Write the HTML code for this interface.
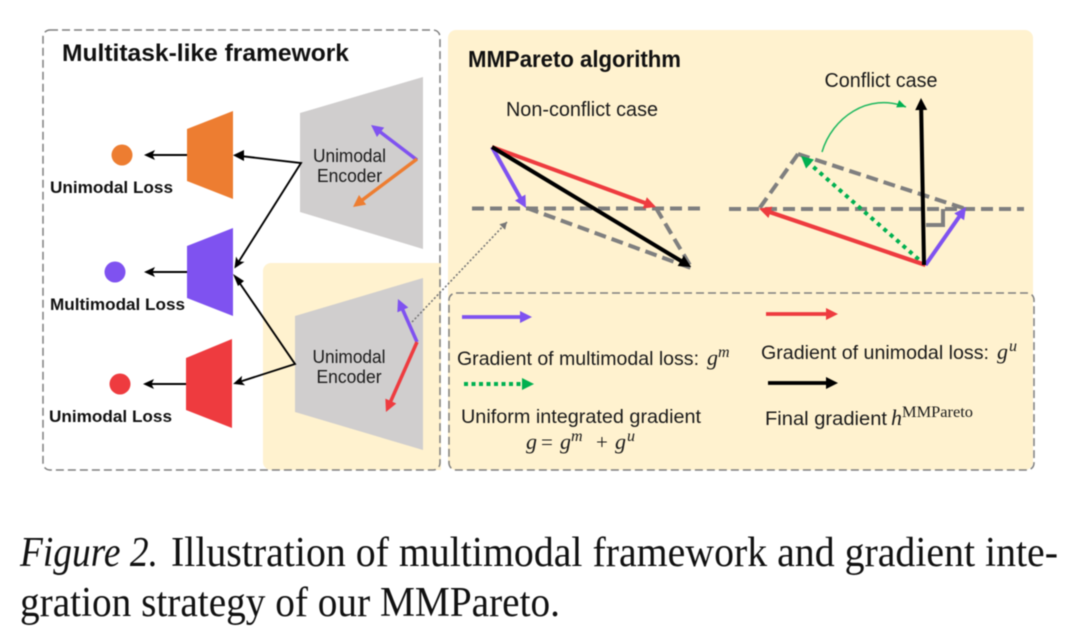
<!DOCTYPE html>
<html><head><meta charset="utf-8"><style>
html,body{margin:0;padding:0;background:#fff;width:1080px;height:636px;overflow:hidden}
svg{display:block;filter:blur(0.45px)}
text{font-family:"Liberation Sans",sans-serif;fill:#1a1a1a}
.b{font-weight:bold;fill:#111}
.m{font-family:"Liberation Serif",serif;font-style:italic}
.mr{font-family:"Liberation Serif",serif}
</style></head><body>
<svg width="1080" height="636" viewBox="0 0 1080 636" xmlns="http://www.w3.org/2000/svg">
<defs>
<marker id="ak" markerUnits="userSpaceOnUse" markerWidth="12" markerHeight="10" refX="8" refY="5" orient="auto"><path d="M0 0L11 5L0 10L2.5 5Z" fill="#000"/></marker>
<marker id="ab" markerUnits="userSpaceOnUse" markerWidth="15" markerHeight="14" refX="7" refY="6" orient="auto"><path d="M1 0L13 6L1 12Z" fill="#000"/></marker>
<marker id="ap" markerUnits="userSpaceOnUse" markerWidth="15" markerHeight="13" refX="7" refY="6" orient="auto"><path d="M1 0L13 6L1 12Z" fill="#7f52f0"/></marker>
<marker id="ar" markerUnits="userSpaceOnUse" markerWidth="15" markerHeight="13" refX="7" refY="6" orient="auto"><path d="M1 0L13 6L1 12Z" fill="#ee3b3f"/></marker>
<marker id="ao" markerUnits="userSpaceOnUse" markerWidth="15" markerHeight="13" refX="7" refY="6" orient="auto"><path d="M1 0L13 6L1 12Z" fill="#ed7d31"/></marker>
<marker id="ag" markerUnits="userSpaceOnUse" markerWidth="15" markerHeight="13" refX="7" refY="6" orient="auto"><path d="M1 0L13 6L1 12Z" fill="#00b050"/></marker>
<marker id="ag2" markerUnits="userSpaceOnUse" markerWidth="10" markerHeight="8" refX="9" refY="4" orient="auto"><path d="M0 0L9 4L0 8Z" fill="#00b050"/></marker>
<marker id="ad" markerUnits="userSpaceOnUse" markerWidth="8" markerHeight="8" refX="7" refY="4" orient="auto"><path d="M0 0L7 4L0 8Z" fill="#777"/></marker>
</defs>
<rect width="1080" height="636" fill="#fff"/>

<!-- yellow panels -->
<rect x="448" y="30" width="585" height="440" rx="8" fill="#fff2cf"/>
<path d="M271 263H441V470H271a8 8 0 0 1-8-8V271a8 8 0 0 1 8-8Z" fill="#fff2cf"/>
<rect x="43" y="30" width="397" height="440" rx="7" fill="none" stroke="#7f7f7f" stroke-width="1.500" stroke-dasharray="8 4"/>
<rect x="449" y="293" width="585" height="177" rx="7" fill="none" stroke="#7f7f7f" stroke-width="1.500" stroke-dasharray="8 4"/>

<text class="b" x="62" y="61" font-size="24.500" textLength="287" lengthAdjust="spacingAndGlyphs">Multitask-like framework</text>
<text class="b" x="468" y="67" font-size="23" textLength="213" lengthAdjust="spacingAndGlyphs">MMPareto algorithm</text>

<!-- encoders -->
<polygon points="300,113 423,77 423,249 300,212" fill="#d0cece"/>
<polygon points="295,316 423,278 423,450 295,412" fill="#d0cece"/>
<text x="349.500" y="162" font-size="18.500" text-anchor="middle" textLength="73" lengthAdjust="spacingAndGlyphs">Unimodal</text>
<text x="349.500" y="182" font-size="18.500" text-anchor="middle" textLength="65" lengthAdjust="spacingAndGlyphs">Encoder</text>
<text x="349" y="363" font-size="18.500" text-anchor="middle" textLength="73" lengthAdjust="spacingAndGlyphs">Unimodal</text>
<text x="349" y="383" font-size="18.500" text-anchor="middle" textLength="65" lengthAdjust="spacingAndGlyphs">Encoder</text>

<!-- heads -->
<polygon points="187,129 233,111 233,199 187,181" fill="#ed7d31"/>
<polygon points="187,246 233,228 233,316 187,298" fill="#7f52f0"/>
<polygon points="186,358 232,339 232,428 186,410" fill="#ee3b3f"/>

<circle cx="122" cy="155" r="10.500" fill="#ed7d31"/>
<circle cx="115" cy="272" r="10.500" fill="#7f52f0"/>
<circle cx="120" cy="384" r="10.500" fill="#ee3b3f"/>

<g stroke="#000" stroke-width="1.900" fill="none" stroke-linejoin="miter">
<line x1="187" y1="155" x2="147" y2="155" marker-end="url(#ak)"/>
<line x1="187" y1="272" x2="147" y2="272" marker-end="url(#ak)"/>
<line x1="186" y1="384" x2="146" y2="384" marker-end="url(#ak)"/>
<path d="M236 155.500L301 163L236 266" marker-end="url(#ak)"/>
<path d="M235.500 277L295 364L236 383" marker-end="url(#ak)"/>
</g>
<path d="M233 155.200L244 150V161Z" fill="#000"/>
<path d="M233 274L244 281L238 286Z" fill="#000"/>

<text class="b" x="50" y="193" font-size="16.800" textLength="123" lengthAdjust="spacingAndGlyphs">Unimodal Loss</text>
<text class="b" x="50" y="310" font-size="16.800" textLength="135" lengthAdjust="spacingAndGlyphs">Multimodal Loss</text>
<text class="b" x="49" y="422" font-size="16.800" textLength="123" lengthAdjust="spacingAndGlyphs">Unimodal Loss</text>

<!-- encoder arrows -->
<line x1="417" y1="160" x2="375.800" y2="128.600" stroke="#7f52f0" stroke-width="3.500" marker-end="url(#ap)"/>
<line x1="417" y1="159" x2="357.800" y2="203.400" stroke="#ed7d31" stroke-width="3.500" marker-end="url(#ao)"/>
<line x1="417" y1="342" x2="400.400" y2="304.500" stroke="#7f52f0" stroke-width="3.500" marker-end="url(#ap)"/>
<line x1="417" y1="342" x2="388.400" y2="406.500" stroke="#ee3b3f" stroke-width="3.500" marker-end="url(#ar)"/>

<!-- dotted link -->
<line x1="412" y1="322" x2="507" y2="222" stroke="#777" stroke-width="1.600" stroke-dasharray="2 2" marker-end="url(#ad)"/>

<text x="582" y="116" font-size="20" text-anchor="middle" textLength="152" lengthAdjust="spacingAndGlyphs">Non-conflict case</text>
<text x="881" y="87" font-size="20" text-anchor="middle" textLength="113" lengthAdjust="spacingAndGlyphs">Conflict case</text>

<!-- non conflict -->
<g stroke="#7f7f7f" stroke-width="4" fill="none" stroke-dasharray="12 6">
<line x1="472" y1="208.500" x2="705" y2="208.500"/>
<line x1="527" y1="208" x2="691" y2="268"/>
<line x1="656" y1="208" x2="691" y2="267"/>
</g>
<line x1="492" y1="147" x2="523.100" y2="202.800" stroke="#7f52f0" stroke-width="4" marker-end="url(#ap)"/>
<line x1="492" y1="147" x2="650.400" y2="204.900" stroke="#ee3b3f" stroke-width="4" marker-end="url(#ar)"/>
<line x1="492" y1="147" x2="685.900" y2="263.900" stroke="#000" stroke-width="4" marker-end="url(#ab)"/>

<!-- conflict -->
<g stroke="#7f7f7f" stroke-width="4" fill="none" stroke-dasharray="12 6">
<line x1="729" y1="209" x2="1024" y2="209"/>
<line x1="798" y1="154" x2="759" y2="209"/>
<line x1="798" y1="154" x2="966" y2="209"/>
</g>
<path d="M926 225H943V209" stroke="#7f7f7f" stroke-width="4" fill="none"/>
<line x1="925" y1="265" x2="805.500" y2="160" stroke="#00b050" stroke-width="4" stroke-dasharray="4 4.500" marker-end="url(#ag)"/>
<line x1="925.500" y1="265" x2="764.700" y2="210.400" stroke="#ee3b3f" stroke-width="4.200" marker-end="url(#ar)"/>
<line x1="925.500" y1="265" x2="962.600" y2="211.900" stroke="#7f52f0" stroke-width="4" marker-end="url(#ap)"/>
<line x1="924" y1="265" x2="921.100" y2="104" stroke="#000" stroke-width="4" marker-end="url(#ab)"/>
<path d="M822 152C832 118 868 92 906 107" stroke="#1fb860" stroke-width="1.500" fill="none" marker-end="url(#ag2)"/>

<!-- legend -->
<line x1="462" y1="317" x2="526" y2="317" stroke="#7f52f0" stroke-width="3.800" marker-end="url(#ap)"/>
<line x1="766" y1="314" x2="832" y2="314" stroke="#ee3b3f" stroke-width="3.800" marker-end="url(#ar)"/>
<line x1="464" y1="384" x2="528" y2="384" stroke="#00b050" stroke-width="4" stroke-dasharray="4 3.500" marker-end="url(#ag)"/>
<line x1="768" y1="383" x2="832" y2="383" stroke="#000" stroke-width="3.800" marker-end="url(#ab)"/>

<text x="457" y="365" font-size="19.500" textLength="242" lengthAdjust="spacingAndGlyphs">Gradient of multimodal loss:</text>
<text class="m" x="707" y="365" font-size="22">g</text><text class="m" x="718" y="357" font-size="16">m</text>
<text x="761" y="359" font-size="19.500" textLength="228" lengthAdjust="spacingAndGlyphs">Gradient of unimodal loss:</text>
<text class="m" x="997" y="359" font-size="22">g</text><text class="m" x="1009" y="351" font-size="16">u</text>
<text x="461" y="423" font-size="19.500" textLength="240" lengthAdjust="spacingAndGlyphs">Uniform integrated gradient</text>
<text class="m" x="526" y="449" font-size="22">g</text>
<text class="mr" x="541" y="449" font-size="21">=</text>
<text class="m" x="560" y="449" font-size="22">g</text>
<text class="m" x="571" y="441" font-size="16">m</text>
<text class="mr" x="596" y="449" font-size="21">+</text>
<text class="m" x="615" y="449" font-size="22">g</text>
<text class="m" x="627" y="441" font-size="16">u</text>
<text x="765" y="425" font-size="19.500" textLength="122" lengthAdjust="spacingAndGlyphs">Final gradient</text>
<text class="m" x="891" y="425" font-size="22">h</text>
<text class="mr" x="902" y="417" font-size="15.500" textLength="71" lengthAdjust="spacingAndGlyphs">MMPareto</text>

<!-- caption -->
<text x="20" y="566" font-size="42" style="font-family:'Liberation Serif',serif;fill:#111" textLength="138" lengthAdjust="spacingAndGlyphs" font-style="italic">Figure 2.</text>
<text x="171" y="566" font-size="42" style="font-family:'Liberation Serif',serif;fill:#111" textLength="887" lengthAdjust="spacingAndGlyphs">Illustration of multimodal framework and gradient inte-</text>
<text x="20" y="616" font-size="42" style="font-family:'Liberation Serif',serif;fill:#111" textLength="540" lengthAdjust="spacingAndGlyphs">gration strategy of our MMPareto.</text>
</svg>
</body></html>
